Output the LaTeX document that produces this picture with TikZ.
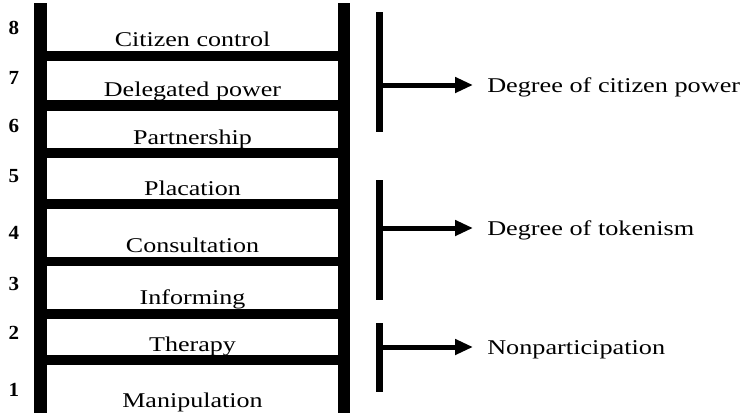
\documentclass[tikz,border=0pt]{standalone}
\usepackage{fontspec}
\setmainfont{Liberation Serif}
\usetikzlibrary{arrows.meta}
\tikzset{
  rail/.style={fill=black, draw=none},
  rung/.style={fill=black, draw=none},
  bracketbar/.style={line width=6.5pt, draw=black},
  ptr/.style={line width=5pt, draw=black, -{Triangle[length=18pt,width=15pt]}, shorten >=14pt},
  rungtext/.style={font=\fontsize{21}{24}\selectfont, inner sep=0pt, anchor=base, xscale=1.24},
  numtext/.style={font=\fontsize{20}{24}\selectfont\bfseries, inner sep=0pt, anchor=base, xscale=1.05},
  sidetext/.style={font=\fontsize{21}{24}\selectfont, inner sep=0pt, anchor=base west, xscale=1.25}
}
\begin{document}
\begin{tikzpicture}[x=1pt,y=-1pt]
\useasboundingbox (0,0) rectangle (744,413);
% rails
\fill[rail] (34,3) rectangle (47,413);
\fill[rail] (338,3) rectangle (350,413);
% rungs
\foreach \a/\b in {51/61,100/111,148/158,199/209,257/266,309/319,355/365}
  \fill[rung] (46,\a) rectangle (339,\b);
% numbers
\node[numtext] (n8) at (14,34) {8};
\node[numtext] (n7) at (14,84) {7};
\node[numtext] (n6) at (14,132) {6};
\node[numtext] (n5) at (14,182) {5};
\node[numtext] (n4) at (14,239) {4};
\node[numtext] (n3) at (14,290) {3};
\node[numtext] (n2) at (14,339) {2};
\node[numtext] (n1) at (14,396) {1};
% rung labels
\node[rungtext] (l8) at (192.5,46.5) {Citizen control};
\node[rungtext] (l7) at (192.5,96.5) {Delegated power};
\node[rungtext] (l6) at (192.5,144.5) {Partnership};
\node[rungtext] (l5) at (192.5,195.5) {Placation};
\node[rungtext] (l4) at (192.5,252) {Consultation};
\node[rungtext] (l3) at (192.5,304.5) {Informing};
\node[rungtext] (l2) at (192.5,351) {Therapy};
\node[rungtext] (l1) at (192.5,407) {Manipulation};
% brackets
\draw[bracketbar] (379.5,12) -- (379.5,132);
\draw[bracketbar] (379.5,180) -- (379.5,300);
\draw[bracketbar] (379.5,323) -- (379.5,392);
\coordinate (b1) at (379.5,85);
\coordinate (b2) at (379.5,228);
\coordinate (b3) at (379.5,347);
% side labels
\node[sidetext] (t1) at (487,92) {Degree of citizen power};
\node[sidetext] (t2) at (487,235) {Degree of tokenism};
\node[sidetext] (t3) at (487,354) {Nonparticipation};
% arrows
\draw[ptr] (b1) -- (b1 -| t1.west);
\draw[ptr] (b2) -- (b2 -| t2.west);
\draw[ptr] (b3) -- (b3 -| t3.west);
\end{tikzpicture}
\end{document}
